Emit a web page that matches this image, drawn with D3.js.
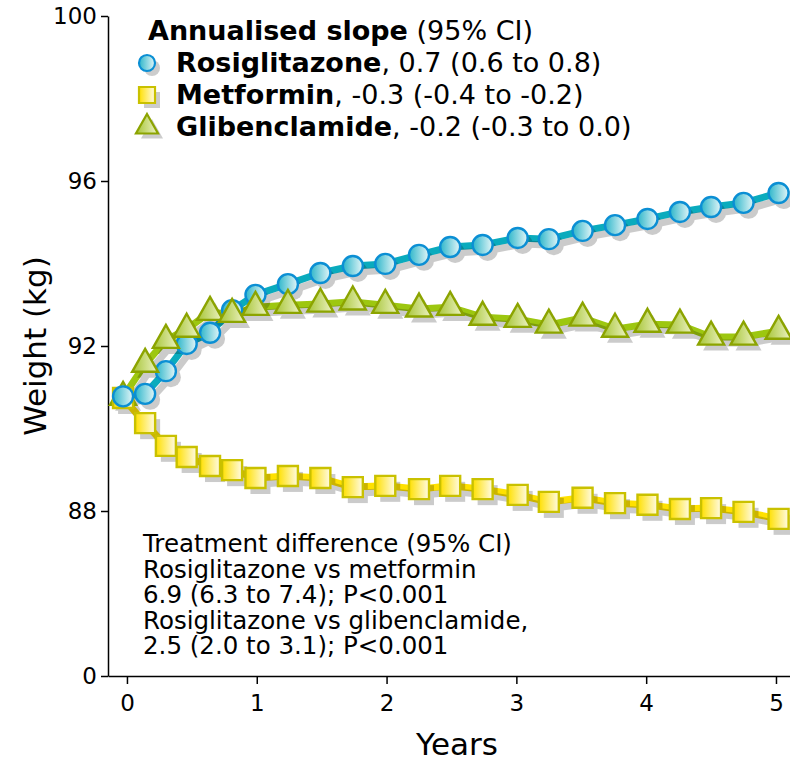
<!DOCTYPE html>
<html><head><meta charset="utf-8">
<script src="https://cdn.jsdelivr.net/npm/d3@7"></script>
<style>
body{margin:0;background:#fff}
text{font-family:"DejaVu Sans",Verdana,sans-serif;fill:#000}
</style>
</head><body>
<svg id="chart" width="790" height="761"></svg>
<script>
// ---- data ----
const years = [-0.03, 0.14, 0.30, 0.46, 0.64, 0.81, 0.99, 1.24, 1.49, 1.74, 1.99, 2.25, 2.49, 2.74, 3.01, 3.25, 3.51, 3.76, 4.01, 4.26, 4.50, 4.75, 5.02];
const rosiglitazone = [90.78, 90.84, 91.39, 92.05, 92.32, 92.87, 93.24, 93.50, 93.77, 93.94, 93.99, 94.21, 94.40, 94.45, 94.62, 94.59, 94.79, 94.93, 95.08, 95.25, 95.37, 95.47, 95.71];
const metformin = [90.74, 90.13, 89.58, 89.31, 89.09, 88.99, 88.80, 88.85, 88.80, 88.58, 88.61, 88.53, 88.61, 88.53, 88.39, 88.22, 88.32, 88.19, 88.15, 88.05, 88.07, 87.98, 87.81];
const glibenclamide = [90.76, 91.56, 92.14, 92.41, 92.82, 92.77, 92.94, 92.99, 93.02, 93.07, 92.99, 92.90, 92.94, 92.70, 92.65, 92.51, 92.68, 92.41, 92.53, 92.51, 92.22, 92.22, 92.36];
const seriesNames = ["Rosiglitazone", "Metformin", "Glibenclamide"];
const seriesSlopes = [", 0.7 (0.6 to 0.8)", ", -0.3 (-0.4 to -0.2)", ", -0.2 (-0.3 to 0.0)"];
const yTickValues = [84, 88, 92, 96, 100];
const yTickLabels = ["0", "88", "92", "96", "100"];
const xTickValues = [0, 1, 2, 3, 4, 5];
const annotationLines = ["Treatment difference (95% CI)", "Rosiglitazone vs metformin", "6.9 (6.3 to 7.4); P<0.001", "Rosiglitazone vs glibenclamide,", "2.5 (2.0 to 3.1); P<0.001"];

// ---- styles ----
const styles = {
  Rosiglitazone: {shape: "circle", line: "#0aabbd", stroke: "#0b8fd4", g0: "#2db6ca", g1: "#e4f6f8"},
  Metformin:     {shape: "square", line: "#ffe100", stroke: "#c9c100", g0: "#ffe000", g1: "#fffbe6"},
  Glibenclamide: {shape: "triangle", line: "#9dc710", stroke: "#8ca400", g0: "#a6c536", g1: "#eef3c6"}
};
const seriesValues = [rosiglitazone, metformin, glibenclamide];

const svg = d3.select("#chart");
const x = d3.scaleLinear().domain([-0.146, 5.108]).range([108, 790]);
const y = d3.scaleLinear().domain([84, 100]).range([676, 16]);

const defs = svg.append("defs");
seriesNames.forEach((n, i) => {
  const g = defs.append("linearGradient").attr("id", "grad" + i).attr("x1", 0).attr("x2", 1).attr("y1", 0).attr("y2", 0);
  g.append("stop").attr("offset", "0%").attr("stop-color", styles[n].g0);
  g.append("stop").attr("offset", "100%").attr("stop-color", styles[n].g1);
});

function shapePath(shape, s) {
  if (shape === "circle") return d3.symbol().type(d3.symbolCircle).size(Math.PI * s * s)();
  if (shape === "square") return `M${-s},${-s}H${s}V${s}H${-s}Z`;
  const b = s * 1.3, h = s * 2.3;
  return `M0,${-2 * h / 3}L${b},${h / 3}L${-b},${h / 3}Z`;
}
const markerSize = {circle: 10, square: 10, triangle: 10};

// ---- axes ----
const yAxis = d3.axisLeft(y).tickValues(yTickValues).tickFormat((d, i) => yTickLabels[i]).tickSize(7).tickSizeOuter(0).tickPadding(4);
const gy = svg.append("g").attr("transform", "translate(108,0)").call(yAxis);
gy.selectAll("text").style("font-size", "23px");
gy.selectAll("path,line").attr("stroke", "#000").attr("stroke-width", 1.5);

const xAxis = d3.axisBottom(x).tickValues(xTickValues).tickFormat(d3.format("d")).tickSize(8).tickSizeOuter(0).tickPadding(11);
const gx = svg.append("g").attr("transform", "translate(0,676)").call(xAxis);
gx.selectAll("text").style("font-size", "23px");
gx.selectAll("path,line").attr("stroke", "#000").attr("stroke-width", 1.5);

svg.append("text").attr("transform", "translate(46,346) rotate(-90)").attr("text-anchor", "middle").style("font-size", "31px").text("Weight (kg)");
svg.append("text").attr("x", 457).attr("y", 755).attr("text-anchor", "middle").style("font-size", "31px").text("Years");

// ---- series ----
const line = d3.line().x((d, i) => x(years[i])).y(d => y(d));
const linesG = svg.append("g");
const shadowG = svg.append("g").attr("opacity", 0.2);
const baseG = svg.append("g");
const markG = svg.append("g");

// draw order: metformin, rosiglitazone, glibenclamide
const order = [1, 0, 2];
order.forEach(si => {
  const st = styles[seriesNames[si]];
  const vals = seriesValues[si];
  linesG.append("path").datum(vals).attr("d", line).attr("fill", "none").attr("stroke", st.line).attr("stroke-width", 7).attr("stroke-linejoin", "round");
  shadowG.append("path").datum(vals).attr("d", line).attr("transform", "translate(5,6)").attr("fill", "none").attr("stroke", "#000").attr("stroke-width", 7).attr("stroke-linejoin", "round");
  shadowG.selectAll(null).data(vals).enter().append("path")
    .attr("d", shapePath(st.shape, markerSize[st.shape]))
    .attr("transform", (d, i) => `translate(${x(years[i]) + 5},${y(d) + 6})`)
    .attr("fill", "#000");
});
// baseline markers drawn beneath the rest (rosiglitazone on top)
[2, 1, 0].forEach(si => {
  const st = styles[seriesNames[si]];
  const vals = seriesValues[si];
  baseG.append("path").attr("d", shapePath(st.shape, markerSize[st.shape]))
    .attr("transform", `translate(${x(years[0])},${y(vals[0])})`)
    .attr("fill", `url(#grad${si})`).attr("stroke", st.stroke).attr("stroke-width", 2.4);
});
order.forEach(si => {
  const st = styles[seriesNames[si]];
  const vals = seriesValues[si];
  markG.selectAll(null).data(vals.slice(1)).enter().append("path")
    .attr("d", shapePath(st.shape, markerSize[st.shape]))
    .attr("transform", (d, i) => `translate(${x(years[i + 1])},${y(d)})`)
    .attr("fill", `url(#grad${si})`).attr("stroke", st.stroke).attr("stroke-width", 2.4);
});

// ---- legend ----
const leg = svg.append("g");
const t0 = leg.append("text").attr("x", 148).attr("y", 40).style("font-size", "27px");
t0.append("tspan").style("font-weight", "bold").text("Annualised slope");
t0.append("tspan").text(" (95% CI)");
seriesNames.forEach((n, i) => {
  const st = styles[n];
  const cy = 63 + i * 32;
  const s = st.shape === "triangle" ? 8.5 : 8;
  leg.append("path").attr("d", shapePath(st.shape, s)).attr("transform", `translate(${152},${cy + 5})`).attr("fill", "#000").attr("opacity", 0.2);
  leg.append("path").attr("d", shapePath(st.shape, s)).attr("transform", `translate(${147},${cy})`)
    .attr("fill", `url(#grad${i})`).attr("stroke", st.stroke).attr("stroke-width", 2.2);
  const t = leg.append("text").attr("x", 176).attr("y", cy + 9).style("font-size", "27px");
  t.append("tspan").style("font-weight", "bold").text(n);
  t.append("tspan").text(seriesSlopes[i]);
});

// ---- annotation ----
const ann = svg.append("text").style("font-size", "24.5px");
annotationLines.forEach((l, i) => {
  ann.append("tspan").attr("x", 143).attr("y", 552 + i * 25.5).text(l);
});
</script>
</body></html>
